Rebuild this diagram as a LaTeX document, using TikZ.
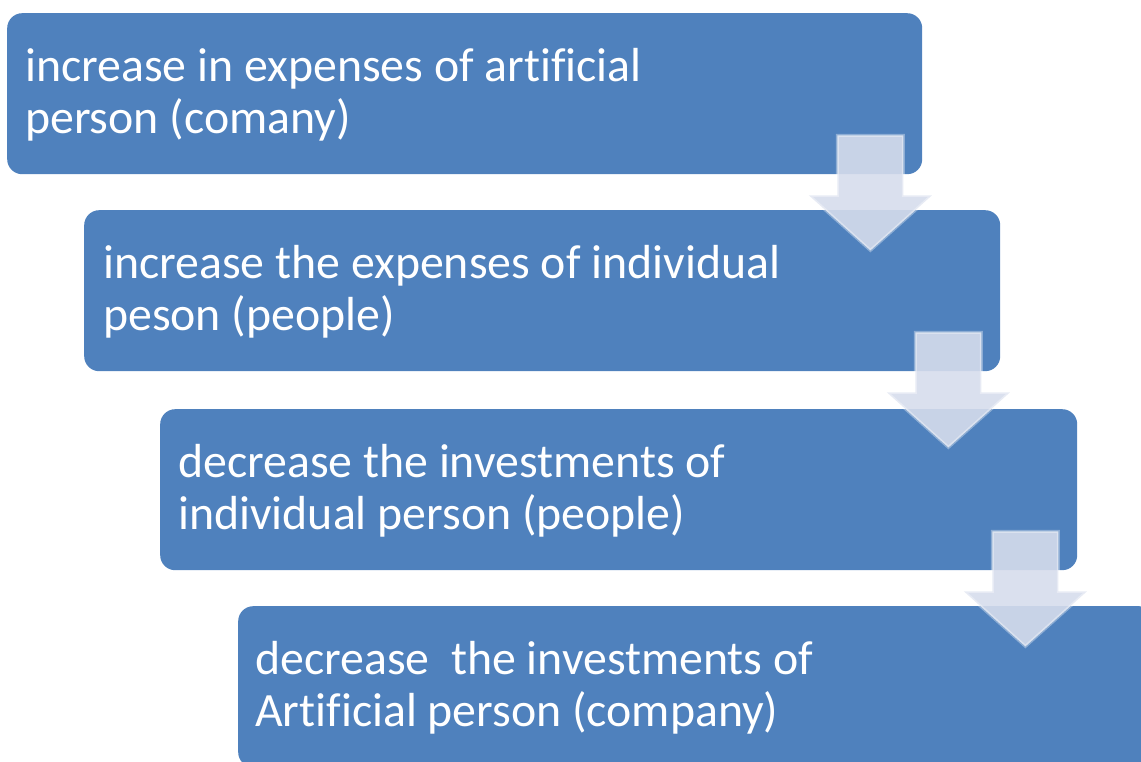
\documentclass[tikz,border=0pt]{standalone}
\usepackage{fontspec}
\setmainfont{Carlito}[Ligatures=NoCommon]
\definecolor{boxblue}{HTML}{4F81BD}
\definecolor{arrowfill}{RGB}{214,221,236}
\begin{document}
\begin{tikzpicture}[x=1pt,y=-1pt,
  box/.style={fill=boxblue, rounded corners=15pt, inner sep=0pt, anchor=north west,
    minimum height=161pt},
  txt/.style={text=white, font=\fontsize{47.8}{52}\selectfont, align=left, inner sep=0pt, anchor=west},
  arrowshape/.style={fill=arrowfill, fill opacity=0.9, draw=white, draw opacity=0.35,
    line width=3pt, line join=miter},
  downarrow/.pic={
    \path[arrowshape] (-33,-39) -- (33,-39) -- (33,21) -- (61.5,21) -- (0,76)
      -- (-61.5,21) -- (-33,21) -- cycle;
  }]
\useasboundingbox (0,0) rectangle (1141,762);
\clip (0,0) rectangle (1141,762);
\node[box, minimum width=915pt] (b1) at (7,13) {};
\node[box, minimum width=916pt] (b2) at (84,210) {};
\node[box, minimum width=917pt] (b3) at (160,409) {};
\node[box, minimum width=916pt] (b4) at (238,606) {};
\node[txt] (t1) at ([xshift=18pt,yshift=-1pt]b1.west) {increase in expenses of artificial\\person (comany)};
\node[txt] (t2) at ([xshift=19pt,yshift=-1pt]b2.west) {increase the expenses of individual\\peson (people)};
\node[txt] (t3) at ([xshift=18pt,yshift=-1pt]b3.west) {decrease the investments of\\individual person (people)};
\node[txt] (t4) at ([xshift=17pt,yshift=-1pt]b4.west) {decrease\ \ the investments of\\Artificial person (company)};
\pic at ([xshift=-52pt]b1.south east) {downarrow};
\pic at ([xshift=-52pt]b2.south east) {downarrow};
\pic at ([xshift=-52pt]b3.south east) {downarrow};
\end{tikzpicture}
\end{document}
